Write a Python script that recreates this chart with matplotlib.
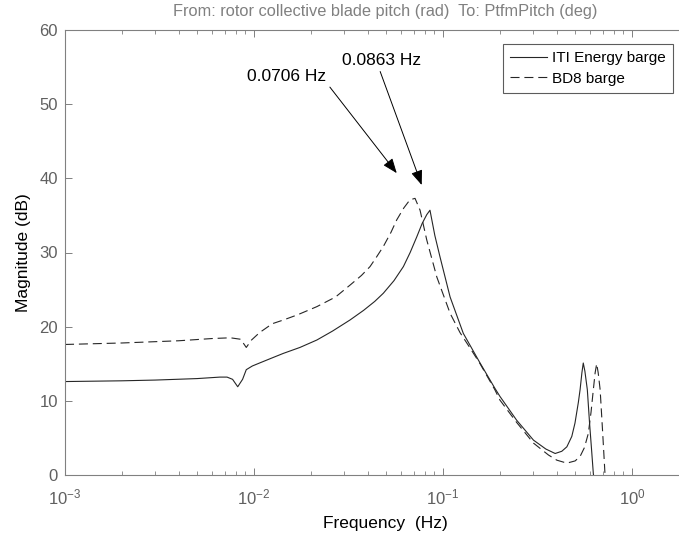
import matplotlib
matplotlib.use("Agg")
import matplotlib.pyplot as plt
import numpy as np

plt.rcParams['font.family'] = ['Liberation Sans', 'DejaVu Sans']
plt.rcParams['mathtext.fontset'] = 'custom'
plt.rcParams['mathtext.rm'] = 'Liberation Sans'
plt.rcParams['mathtext.it'] = 'Liberation Sans'
plt.rcParams['mathtext.default'] = 'regular'
plt.rcParams['lines.scale_dashes'] = False

# ITI Energy barge (solid)
iti_f = [0.001, 0.002, 0.003, 0.005, 0.0066, 0.0072, 0.0077, 0.0082, 0.0087, 0.0091,
         0.0098, 0.0107, 0.0125, 0.0143, 0.0175, 0.0215, 0.026, 0.0322, 0.038, 0.0435,
         0.0483, 0.055, 0.0617, 0.067, 0.0726, 0.0775, 0.082, 0.0853, 0.0905, 0.0964,
         0.109, 0.128, 0.157, 0.188, 0.2, 0.245, 0.301, 0.35, 0.392, 0.425, 0.452,
         0.48, 0.499, 0.52, 0.531, 0.543, 0.552, 0.563, 0.58, 0.596, 0.61, 0.624, 0.64]
iti_db = [12.6, 12.7, 12.8, 13.0, 13.2, 13.2, 12.9, 11.9, 12.9, 14.2,
          14.7, 15.1, 15.8, 16.4, 17.2, 18.2, 19.4, 20.9, 22.2, 23.4,
          24.5, 26.2, 28.1, 30.0, 32.1, 33.9, 35.1, 35.7, 32.3, 29.4,
          24.0, 19.1, 15.1, 11.7, 10.6, 7.4, 4.7, 3.5, 2.9, 3.2, 3.8,
          5.2, 7.0, 9.8, 11.5, 13.8, 15.1, 14.0, 11.5, 7.0, 3.6, 0.2, -2.0]

# BD8 barge (dashed)
bd8_f = [0.001, 0.002, 0.004, 0.006, 0.0075, 0.0085, 0.0091, 0.0097, 0.0107, 0.0125,
         0.0143, 0.017, 0.0215, 0.027, 0.0322, 0.037, 0.0411, 0.0445, 0.0483, 0.053,
         0.0569, 0.062, 0.0668, 0.0711, 0.0756, 0.082, 0.0927, 0.109, 0.123, 0.14,
         0.157, 0.188, 0.2, 0.245, 0.301, 0.361, 0.40, 0.452, 0.50, 0.531, 0.56,
         0.587, 0.607, 0.624, 0.638, 0.65, 0.662, 0.678, 0.70, 0.719, 0.73]
bd8_db = [17.6, 17.8, 18.1, 18.4, 18.5, 18.3, 17.2, 18.2, 19.2, 20.4,
          20.9, 21.6, 22.7, 24.0, 25.6, 26.9, 28.1, 29.4, 30.8, 32.7,
          34.4, 36.0, 37.1, 37.3, 35.7, 31.7, 26.7, 21.8, 19.2, 17.0,
          15.0, 11.5, 10.1, 7.1, 4.3, 2.7, 2.0, 1.6, 1.9, 2.5, 3.7,
          5.6, 8.5, 11.5, 13.8, 15.0, 13.8, 11.5, 5.5, 0.2, -1.0]

series_names = ["ITI Energy barge", "BD8 barge"]
peak_labels = ["0.0706 Hz", "0.0863 Hz"]
yticks = [0, 10, 20, 30, 40, 50, 60]
xticks = [1e-3, 1e-2, 1e-1, 1e0]
xtick_labels = [r"$10^{-3}$", r"$10^{-2}$", r"$10^{-1}$", r"$10^{0}$"]

fig = plt.figure(figsize=(6.79, 5.36), dpi=100)
ax = fig.add_axes([65/679, 61/536, 640/679, 445/536])

gray = '#808080'
ax.plot(iti_f, iti_db, color='#262626', lw=0.8, ls='-', label=series_names[0])
ax.plot(bd8_f, bd8_db, color='#262626', lw=0.8, ls=(0, (6.5, 3.5)), label=series_names[1])

ax.set_xscale('log')
ax.set_xlim(1e-3, 10**0.386)
ax.set_ylim(0, 60)
ax.set_yticks(yticks)
ax.set_xticks(xticks)
ax.set_xticklabels(xtick_labels)

for s in ['left', 'bottom', 'top']:
    ax.spines[s].set_color(gray)
    ax.spines[s].set_linewidth(0.8)
ax.spines['right'].set_visible(False)
ax.tick_params(which='both', direction='in', top=True, right=False, colors=gray,
               labelcolor='#606060', labelsize=12)
ax.tick_params(which='major', length=5, width=0.7)
ax.tick_params(which='minor', length=3, width=0.6)
ax.tick_params(axis='x', pad=9)
ax.tick_params(axis='y', pad=5)

ax.set_xlabel("Frequency  (Hz)", fontsize=12.5, color='black', labelpad=6)
ax.set_ylabel("Magnitude (dB)", fontsize=12.5, color='black', labelpad=6)
ax.set_title("From: rotor collective blade pitch (rad)  To: PtfmPitch (deg)",
             fontsize=11.8, color=gray, pad=10)

leg = ax.legend(loc='upper right', bbox_to_anchor=(608/640, 1 - 14/445),
                fontsize=11, frameon=True, fancybox=False, handlelength=2.4,
                handletextpad=0.35, borderpad=0.45, labelspacing=0.45, borderaxespad=0)
leg.get_frame().set_edgecolor('#333333')
leg.get_frame().set_linewidth(0.8)

arrow = dict(arrowstyle='-|>,head_length=0.9,head_width=0.35', color='black',
             lw=0.7, shrinkA=0, shrinkB=0)
ax.annotate("", xy=(0.0569, 40.7), xytext=(0.0252, 52.3), arrowprops=arrow)
ax.text(0.00914, 53.7, peak_labels[0], fontsize=12.5, ha='left', va='center')
ax.annotate("", xy=(0.0771, 39.1), xytext=(0.0465, 54.4), arrowprops=arrow)
ax.text(0.0291, 55.9, peak_labels[1], fontsize=12.5, ha='left', va='center')

fig.savefig("out.png", dpi=100)
